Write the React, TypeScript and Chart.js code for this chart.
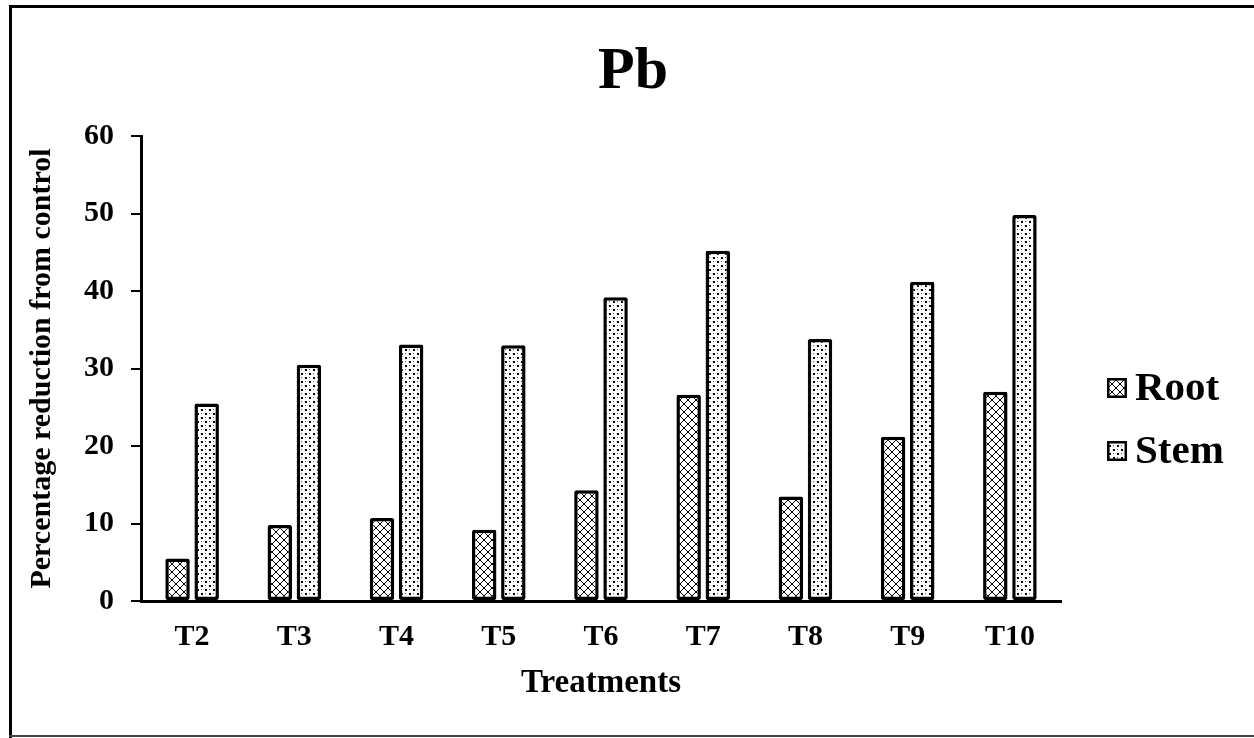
import React, { useEffect, useRef } from 'react';
import { Chart, registerables } from 'chart.js';

Chart.register(...registerables);

// ---- data ----
const TITLE = 'Pb';
const X_TITLE = 'Treatments';
const Y_TITLE = 'Percentage reduction from control';
const categories = ['T2', 'T3', 'T4', 'T5', 'T6', 'T7', 'T8', 'T9', 'T10'];
const seriesLabels = ['Root', 'Stem'];
const rootValues = [5.5, 9.8, 10.7, 9.2, 14.3, 26.6, 13.5, 21.2, 27.0];
const stemValues = [25.5, 30.5, 33.1, 33.0, 39.2, 45.2, 33.8, 41.2, 49.8];
const yMin = 0;
const yMax = 60;
const yStep = 10;

const FONT = "'Liberation Serif', 'Times New Roman', serif";

function makeCrossPattern(): CanvasPattern | string {
  const c = document.createElement('canvas');
  c.width = 8;
  c.height = 8;
  const g = c.getContext('2d');
  if (!g) return '#fff';
  g.fillStyle = '#fff';
  g.fillRect(0, 0, 8, 8);
  g.strokeStyle = '#000';
  g.lineWidth = 1;
  g.beginPath();
  g.moveTo(0, 0);
  g.lineTo(8, 8);
  g.moveTo(8, 0);
  g.lineTo(0, 8);
  g.stroke();
  return g.createPattern(c, 'repeat') || '#fff';
}

function makeDotPattern(): CanvasPattern | string {
  const c = document.createElement('canvas');
  c.width = 8;
  c.height = 8;
  const g = c.getContext('2d');
  if (!g) return '#fff';
  g.fillStyle = '#fff';
  g.fillRect(0, 0, 8, 8);
  g.fillStyle = '#000';
  g.fillRect(1, 1, 2, 2);
  g.fillRect(5, 5, 2, 2);
  g.fillStyle = '#555';
  g.fillRect(5, 1, 1, 1);
  g.fillRect(1, 5, 1, 1);
  return g.createPattern(c, 'repeat') || '#fff';
}

const decorPlugin = {
  id: 'decor',
  beforeDraw(chart: any) {
    const ctx = chart.ctx as CanvasRenderingContext2D;
    ctx.save();
    ctx.fillStyle = '#fff';
    ctx.fillRect(0, 0, chart.width, chart.height);
    ctx.fillStyle = '#000';
    ctx.fillRect(9, 5, chart.width - 9, 3);
    ctx.fillRect(9, 5, 3, chart.height - 5);
    ctx.fillStyle = '#444';
    ctx.fillRect(9, 735, chart.width - 9, 2);
    ctx.restore();
  },
  afterDraw(chart: any) {
    const ctx = chart.ctx as CanvasRenderingContext2D;
    ctx.save();
    // title
    ctx.fillStyle = '#000';
    ctx.font = `bold 60px ${FONT}`;
    ctx.textAlign = 'center';
    ctx.textBaseline = 'alphabetic';
    ctx.fillText(TITLE, 633, 88);
    // legend
    chart.data.datasets.forEach((ds: any, i: number) => {
      const y = 378 + i * 63;
      ctx.fillStyle = ds.backgroundColor;
      ctx.fillRect(1107, y, 20, 20);
      ctx.lineWidth = 2.5;
      ctx.strokeStyle = '#000';
      ctx.strokeRect(1108.25, y + 1.25, 17.5, 17.5);
      ctx.fillStyle = '#000';
      ctx.font = `bold 41px ${FONT}`;
      ctx.textAlign = 'left';
      ctx.textBaseline = 'middle';
      ctx.fillText(ds.label, 1135, y + 11);
    });
    ctx.restore();
  },
};

export default function App() {
  const ref = useRef<HTMLCanvasElement | null>(null);

  useEffect(() => {
    if (!ref.current) return;
    const cross = makeCrossPattern();
    const dots = makeDotPattern();
    const common = {
      borderColor: '#000',
      borderWidth: 3.5,
      borderSkipped: false,
      borderRadius: 2,
      categoryPercentage: 0.57,
      barPercentage: 0.84,
    };
    const chart = new Chart(ref.current, {
      type: 'bar',
      data: {
        labels: categories,
        datasets: [
          { label: seriesLabels[0], data: rootValues, backgroundColor: cross as any, ...common },
          { label: seriesLabels[1], data: stemValues, backgroundColor: dots as any, ...common },
        ],
      },
      options: {
        responsive: false,
        animation: false,
        devicePixelRatio: 1,
        layout: { padding: { left: 20, right: 193, top: 136, bottom: 0 } },
        plugins: {
          legend: { display: false },
          title: { display: false },
          tooltip: { enabled: false },
        },
        scales: {
          x: {
            grid: { display: false, drawTicks: false },
            border: { display: true, color: '#000', width: 3 },
            ticks: {
              color: '#000',
              font: { family: FONT, size: 30, weight: 'bold' },
              padding: 18,
            },
            title: {
              display: true,
              text: X_TITLE,
              color: '#000',
              font: { family: FONT, size: 33, weight: 'bold' },
              padding: { top: 0, bottom: 35 },
            },
            afterFit: (s: any) => {
              s.height = 137;
            },
          },
          y: {
            min: yMin,
            max: yMax,
            ticks: {
              stepSize: yStep,
              color: '#000',
              font: { family: FONT, size: 30, weight: 'bold' },
              padding: 17,
            },
            grid: {
              display: true,
              drawOnChartArea: false,
              drawTicks: true,
              tickLength: 10,
              color: '#000',
              lineWidth: 2,
            },
            border: { display: true, color: '#000', width: 3 },
            title: {
              display: true,
              text: Y_TITLE,
              color: '#000',
              font: { family: FONT, size: 30, weight: 'bold' },
              padding: { top: 4, bottom: 0 },
            },
            afterFit: (s: any) => {
              s.width = 121;
            },
          },
        },
      } as any,
      plugins: [decorPlugin],
    });
    return () => chart.destroy();
  }, []);

  return (
    <div style={{ position: 'absolute', left: 0, top: 0, width: 1254, height: 738 }}>
      <canvas ref={ref} width={1254} height={738} style={{ display: 'block' }} />
    </div>
  );
}
